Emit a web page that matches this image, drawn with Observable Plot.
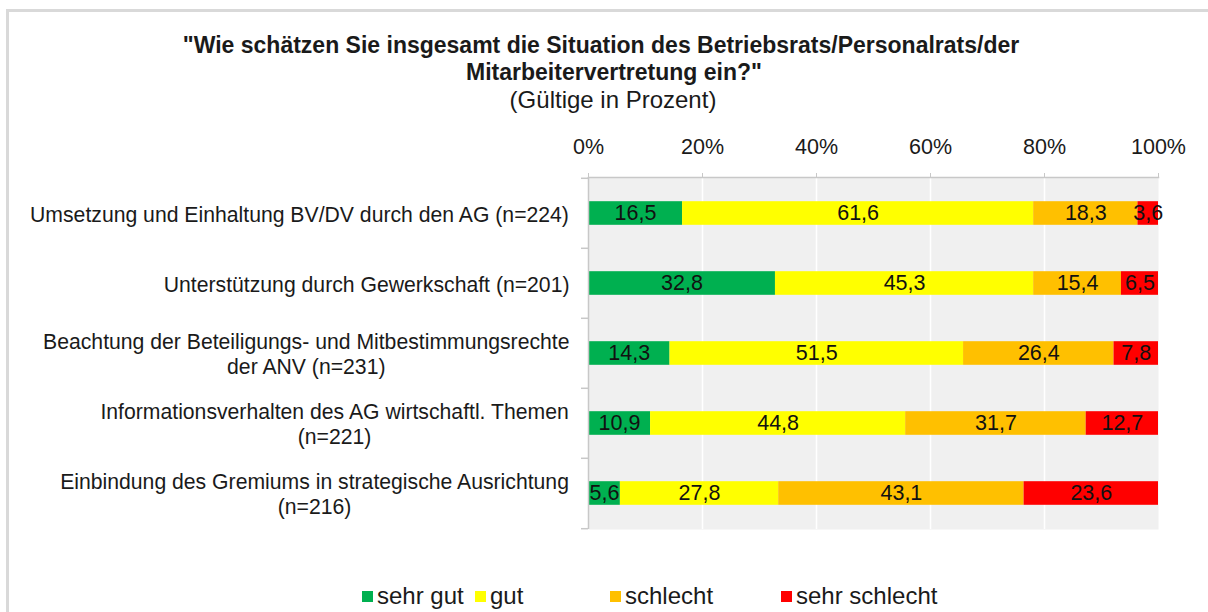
<!DOCTYPE html>
<html>
<head>
<meta charset="utf-8">
<script src="https://cdn.jsdelivr.net/npm/d3@7"></script>
<script src="https://cdn.jsdelivr.net/npm/@observablehq/plot@0.6"></script>
<style>
  html, body { margin: 0; padding: 0; background: #fff; overflow: hidden; }
  #wrap { position: relative; width: 1208px; height: 612px; overflow: hidden; font-family: "Liberation Sans", Arial, sans-serif; color: #1a1a1a; }
  #border { position: absolute; left: 6px; top: 9px; width: 1230px; height: 640px; border: 3px solid #d9d9d9; box-sizing: border-box; }
  .t { position: absolute; text-align: center; white-space: nowrap; transform: translateX(-50%); }
  #chart { position: absolute; left: 0; top: 0; }
  .leg { position: absolute; top: 582px; font-size: 24px; line-height: 28px; white-space: nowrap; }
  .sw { position: absolute; width: 11px; height: 11px; }
</style>
</head>
<body>
<div id="wrap">
  <div id="border"></div>
  <div class="t" style="left:601px;top:31px;font-size:23px;font-weight:bold;line-height:28px;">"Wie schätzen Sie insgesamt die Situation des Betriebsrats/Personalrats/der</div>
  <div class="t" style="left:614px;top:58px;font-size:23px;font-weight:bold;line-height:28px;">Mitarbeitervertretung ein?"</div>
  <div class="t" style="left:613px;top:86px;font-size:24px;line-height:28px;">(Gültige in Prozent)</div>
  <div id="chart"></div>
  <div id="legend"></div>
</div>
<script>
const categories = [
  "Umsetzung und Einhaltung BV/DV durch den AG (n=224)",
  "Unterstützung durch Gewerkschaft (n=201)",
  "Beachtung der Beteiligungs- und Mitbestimmungsrechte\nder ANV (n=231)",
  "Informationsverhalten des AG wirtschaftl. Themen\n(n=221)",
  "Einbindung des Gremiums in strategische Ausrichtung\n(n=216)"
];
const series = ["sehr gut", "gut", "schlecht", "sehr schlecht"];
const colors = ["#00B050", "#FFFF00", "#FFC000", "#FF0000"];
const sehrGut      = [16.5, 32.8, 14.3, 10.9, 5.6];
const gut          = [61.6, 45.3, 51.5, 44.8, 27.8];
const schlecht     = [18.3, 15.4, 26.4, 31.7, 43.1];
const sehrSchlecht = [3.6, 6.5, 7.8, 12.7, 23.6];
const xTicks = [0, 0.2, 0.4, 0.6, 0.8, 1];
const legendX = [362, 475, 610, 781];

const valuesBySeries = [sehrGut, gut, schlecht, sehrSchlecht];
const data = categories.flatMap((c, i) =>
  series.map((s, j) => ({category: c, series: s, value: valuesBySeries[j][i]})));

const fmt = v => v.toFixed(1).replace(".", ",");

const W = 1208, H = 612, mL = 588, mR = 50, mT = 177, mB = 83;
const innerW = W - mL - mR, innerH = H - mT - mB;
const band = innerH / categories.length;
const barH = 24;
const inset = (band - barH) / 2;
const grey = "#c8c8c8";
const labelSize = 21.2;

// measure label widths for centred multi-line labels, right-aligned block
const ctx = document.createElement("canvas").getContext("2d");
ctx.font = labelSize + "px 'Liberation Sans'";
const labelMarks = categories.map(c => {
  const w = Math.max(...c.split("\n").map(l => ctx.measureText(l).width));
  return Plot.text([c], {y: d => d, text: d => d, frameAnchor: "left", textAnchor: "middle",
    dx: -(19 + w / 2), lineHeight: 1.18, fontSize: labelSize, fill: "#1a1a1a"});
});

const chart = Plot.plot({
  width: W, height: H,
  marginLeft: mL, marginRight: mR, marginTop: mT, marginBottom: mB,
  style: {fontFamily: "'Liberation Sans', Arial, sans-serif", fontSize: "21px", background: "transparent", overflow: "visible"},
  x: {domain: [0, 1], axis: null, label: null},
  y: {domain: categories, padding: 0, axis: null, label: null},
  color: {domain: series, range: colors},
  marks: [
    Plot.frame({fill: "#f0f0f0", stroke: "none"}),
    Plot.gridX({ticks: [0.2, 0.4, 0.6, 0.8], stroke: "#ffffff", strokeOpacity: 1, strokeWidth: 1.5}),
    Plot.barX(data, Plot.stackX({offset: "normalize", x: "value", y: "category", fill: "series", insetTop: inset, insetBottom: inset})),
    Plot.text(data, Plot.stackX({offset: "normalize", x: "value", y: "category", z: "series", text: d => fmt(d.value), fontSize: 21.5, fill: "#111"})),
    Plot.ruleX([0], {stroke: grey, strokeWidth: 1.5}),
    Plot.frame({anchor: "top", stroke: grey, strokeWidth: 1.5}),
    Plot.axisX({anchor: "top", ticks: xTicks, tickFormat: d3.format(".0%"), tickSize: 5, tickPadding: 19, stroke: grey, fill: "#1a1a1a", fontSize: 21.5, label: null}),
    Plot.ruleY(categories, {y: d => d, x1: -7 / innerW, x2: 0, dy: -band / 2, stroke: grey, strokeWidth: 1.5}),
    Plot.ruleY([categories[categories.length - 1]], {y: d => d, x1: -7 / innerW, x2: 0, dy: band / 2, stroke: grey, strokeWidth: 1.5}),
    ...labelMarks
  ]
});
document.getElementById("chart").appendChild(chart);

const legend = document.getElementById("legend");
series.forEach((s, i) => {
  const sw = document.createElement("div");
  sw.className = "sw";
  sw.style.left = legendX[i] + "px";
  sw.style.top = "591px";
  sw.style.background = colors[i];
  legend.appendChild(sw);
  const t = document.createElement("div");
  t.className = "leg";
  t.style.left = (legendX[i] + 15) + "px";
  t.textContent = s;
  legend.appendChild(t);
});
</script>
</body>
</html>
